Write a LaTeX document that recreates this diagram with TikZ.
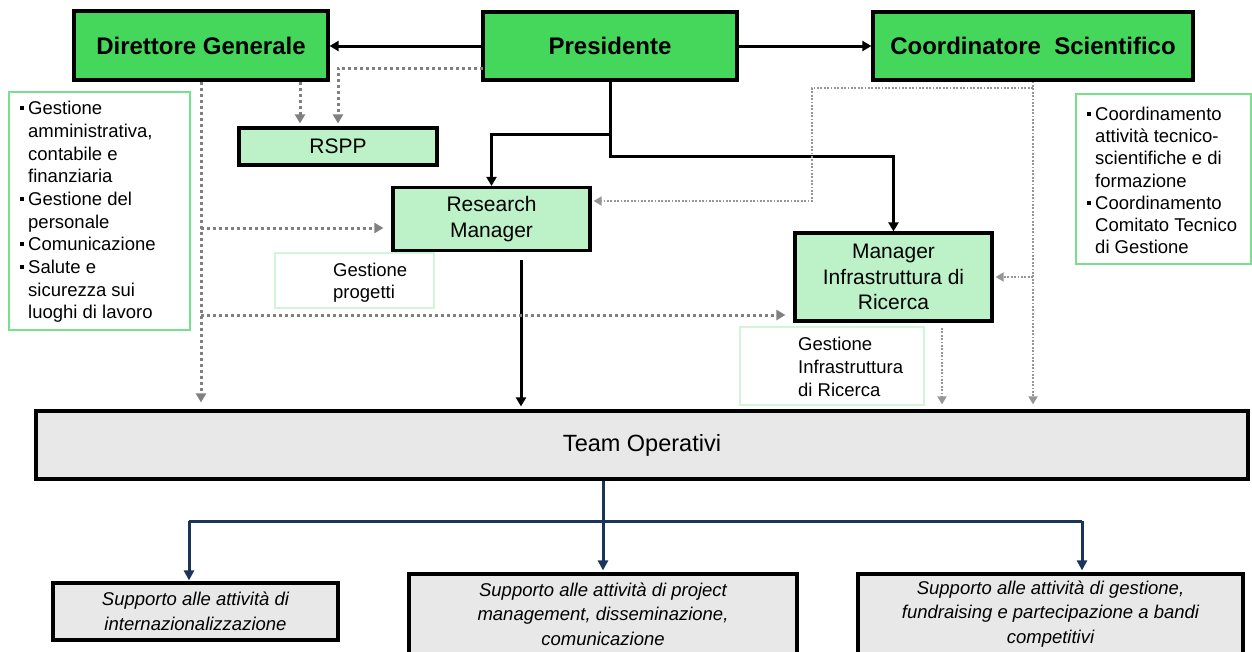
\documentclass[tikz,border=0pt]{standalone}
\usepackage{fontspec}
\setmainfont{Liberation Sans}
\usetikzlibrary{arrows.meta,calc}
\definecolor{dkgreen}{RGB}{69,214,92}
\definecolor{ltgreen}{RGB}{189,242,200}
\definecolor{listgreen}{RGB}{120,224,140}
\definecolor{paleborder}{RGB}{210,244,216}
\definecolor{teamgray}{RGB}{232,232,232}
\definecolor{dotgray}{RGB}{128,128,128}
\definecolor{ltdotgray}{RGB}{150,150,150}
\definecolor{navy}{RGB}{27,53,88}
\newcommand{\bul}{\makebox[8pt][l]{\raisebox{4.5pt}{\rule{4pt}{4pt}}}}
\newcommand{\ind}{\hspace*{8pt}}
\tikzset{
  topbox/.style={draw=black, line width=3.2pt, fill=dkgreen, inner sep=0pt,
    font=\fontsize{24}{28}\selectfont\bfseries},
  subbox/.style={draw=black, line width=3.2pt, fill=ltgreen, inner sep=0pt, align=center,
    font=\fontsize{21}{25.5}\selectfont},
  teambox/.style={draw=black, line width=3.2pt, fill=teamgray, inner sep=0pt,
    font=\fontsize{23.5}{28}\selectfont},
  suppbox/.style={draw=black, line width=3.2pt, fill=teamgray, inner sep=0pt, align=center,
    font=\fontsize{18.5}{24.5}\selectfont\itshape},
  listbox/.style={draw=listgreen, line width=1.3pt, fill=white, inner sep=0pt},
  notebox/.style={draw=paleborder, line width=1.3pt, fill=white, inner sep=0pt},
  listtext/.style={anchor=north west, inner sep=0pt, align=left,
    font=\fontsize{18.5}{22.7}\selectfont},
  solidline/.style={draw=black, line width=3pt},
  solidarr/.style={solidline, -{Triangle[length=9pt,width=10pt]}},
  dotarr/.style={draw=dotgray, line width=3pt, dash pattern=on 3pt off 3pt,
    -{Triangle[length=9pt,width=10pt]}},
  thindotarr/.style={draw=ltdotgray, line width=1.8pt, dash pattern=on 1.8pt off 1.6pt,
    -{Triangle[length=8pt,width=9pt]}},
  navyline/.style={draw=navy, line width=3pt},
  navyarr/.style={navyline, -{Triangle[length=10pt,width=10pt]}},
}
\begin{document}
\begin{tikzpicture}[x=1pt,y=-1pt]
\useasboundingbox (0,0) rectangle (1252,651);
% top boxes
\node[topbox, minimum width=254, minimum height=69] (dg) at (201,45.5) {Direttore Generale};
\node[topbox, minimum width=254, minimum height=68] (pres) at (610,46) {Presidente};
\node[topbox, minimum width=320, minimum height=68] (cs) at (1033,46) {Coordinatore\ \ Scientifico};
% sub boxes
\node[subbox, minimum width=198, minimum height=37] (rspp) at (338,146.5) {RSPP};
\node[subbox, minimum width=197, minimum height=63] (rm) at (491.5,219) {Research\\Manager};
\node[subbox, minimum width=197, minimum height=88] (mi) at (893.5,277) {Manager\\Infrastruttura di\\Ricerca};
% lists
\node[listbox, minimum width=181, minimum height=238] (ll) at (99.5,211) {};
\node[listtext] (llt) at (20,101) {\bul Gestione\\\ind amministrativa,\\\ind contabile e\\\ind finanziaria\\\bul Gestione del\\\ind personale\\\bul Comunicazione\\\bul Salute e\\\ind sicurezza sui\\\ind luoghi di lavoro};
\node[listbox, minimum width=175, minimum height=170] (rl) at (1163.5,179) {};
\node[listtext, font=\fontsize{18.5}{22.3}\selectfont] (rlt) at (1087,106.5) {\bul Coordinamento\\\ind attività tecnico-\\\ind scientifiche e di\\\ind formazione\\\bul Coordinamento\\\ind Comitato Tecnico\\\ind di Gestione};
\node[notebox, minimum width=159, minimum height=55] (gp) at (354.5,280.5) {};
\node[listtext] (gpt) at (333,262.5) {Gestione\\progetti};
\node[notebox, minimum width=184, minimum height=78] (gi) at (832,366) {};
\node[listtext, font=\fontsize{18.5}{23}\selectfont] (git) at (798,336.5) {Gestione\\Infrastruttura\\di Ricerca};
% team
\node[teambox, minimum width=1212, minimum height=68] (team) at (642,445) {Team Operativi};
\node[suppbox, minimum width=285, minimum height=57] (s1) at (195.5,611.5) {Supporto alle attività di\\internazionalizzazione};
\node[suppbox, minimum width=388, minimum height=80] (s2) at (603,614) {Supporto alle attività di project\\management, disseminazione,\\comunicazione};
\node[suppbox, minimum width=385, minimum height=80] (s3) at (1050.5,614) {Supporto alle attività di gestione,\\fundraising e partecipazione a bandi\\competitivi};
% coordinates
\coordinate (x300) at (300,0);
\coordinate (x201) at (201,0);
\coordinate (pd) at (483,68);
\coordinate (b1) at (201,228);
\coordinate (b2) at (201,315);
\coordinate (p1) at (610,134);
\coordinate (p2) at (610,156);
\coordinate (rmout) at (521,260);
\coordinate (c1) at (1033,88);
\coordinate (c2) at (812,88);
\coordinate (c3) at (812,201);
\coordinate (c4) at (1033,277);
\coordinate (m1) at (942,328);
\coordinate (k0) at (603,521);
\coordinate (k1) at (189,521);
\coordinate (k3) at (1082,521);
% solid connectors
\draw[solidarr] (pres.west) -- (pres.west -| dg.east);
\draw[solidarr] (pres.east) -- (pres.east -| cs.west);
\draw[solidarr] (pres.south) -- (p2) -| (mi.north);
\draw[solidarr] (p1) -| (rm.north);
\draw[solidarr, shorten >=3pt] (rmout) -- (rmout |- team.north);
% dotted connectors
\draw[dotarr, shorten >=3pt] (pd) -| (rspp.north);
\draw[dotarr, shorten >=3pt] (dg.south -| x300) -- (rspp.north -| x300);
\draw[dotarr, shorten >=7pt] (dg.south -| x201) -- (team.north -| x201);
\draw[dotarr, shorten >=8pt] (b1) -- (b1 -| rm.west);
\draw[dotarr, shorten >=8pt] (b2) -- (b2 -| mi.west);
\draw[thindotarr, shorten >=5pt] (cs.south) -- (team.north -| cs.south);
\draw[thindotarr, shorten >=2pt] (c1) -- (c2) -- (c3) -- (c3 -| rm.east);
\draw[thindotarr, shorten >=2pt] (c4) -- (c4 -| mi.east);
\draw[thindotarr, shorten >=5pt] (m1) -- (m1 |- team.north);
% team tree
\draw[navyline] (team.south -| k0) -- (k0);
\draw[navyline] (k1) -- (k3);
\draw[navyarr, shorten >=1pt] (k1) -- (k1 |- s1.north);
\draw[navyarr, shorten >=2pt] (k0) -- (s2.north);
\draw[navyarr, shorten >=2pt] (k3) -- (k3 |- s3.north);
\end{tikzpicture}
\end{document}
